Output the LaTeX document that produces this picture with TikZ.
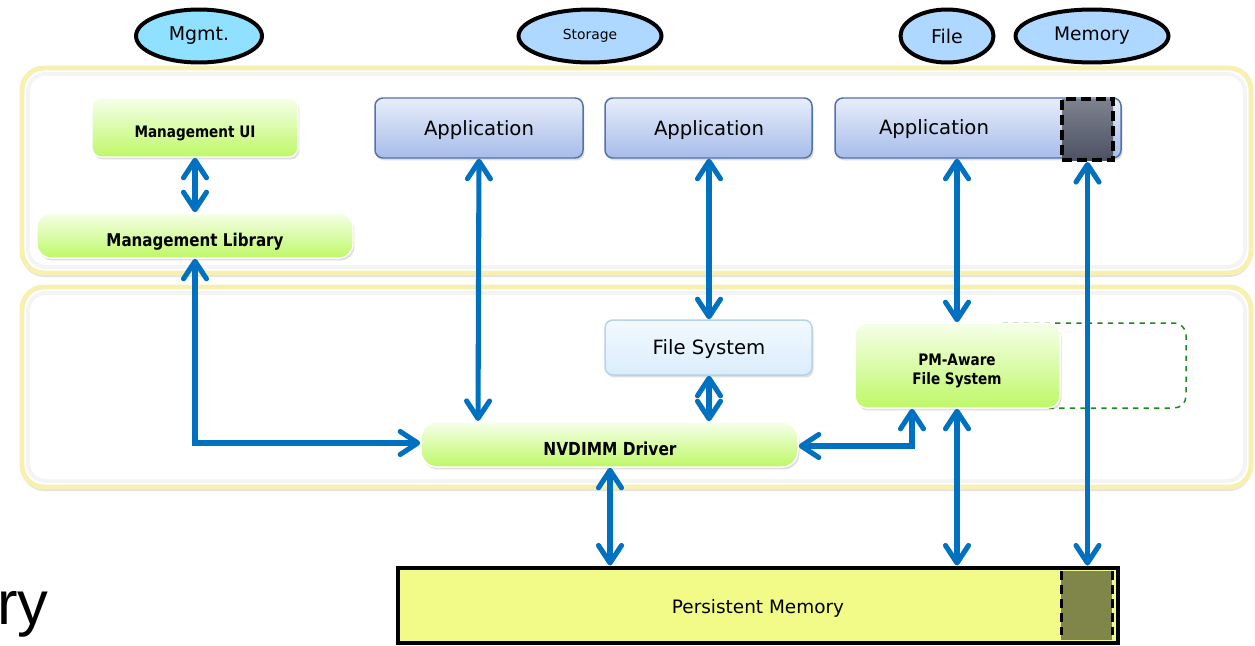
\documentclass[tikz,border=0pt]{standalone}
\usepackage{fontspec}
\setmainfont{DejaVu Sans}
\newfontfamily\rysf{Liberation Sans}
\usetikzlibrary{arrows.meta,shapes.geometric,shadows,fit}
\definecolor{arrblue}{HTML}{0070C0}
\definecolor{layeryel}{HTML}{F8F0B0}
\definecolor{gtop}{HTML}{F6FFEA}
\definecolor{gbot}{HTML}{BEF866}
\definecolor{btop}{HTML}{E8EEFA}
\definecolor{bbot}{HTML}{A6BCEA}
\definecolor{bdraw}{HTML}{5272AC}
\definecolor{ftop}{HTML}{F2F9FF}
\definecolor{fbot}{HTML}{DAEDFC}
\definecolor{fdraw}{HTML}{B8D2EA}
\definecolor{ellcyan}{HTML}{90E0FF}
\definecolor{ellblue}{HTML}{AED8FF}
\definecolor{pmyel}{HTML}{F2FA88}
\definecolor{pmdark}{HTML}{80854A}
\definecolor{dgreen}{HTML}{1A8A1A}
\definecolor{sqtop}{HTML}{7E828E}
\definecolor{sqbot}{HTML}{4C5264}
\newcommand{\condb}[1]{\scalebox{0.86}[1]{\bfseries #1}}
\begin{document}
\begin{tikzpicture}[x=0.02cm,y=-0.02cm,
  layer/.style={draw=layeryel,line width=2.83pt,rounded corners=12.5pt,fill=white,
    drop shadow={opacity=0.22,shadow xshift=0pt,shadow yshift=-2.3pt}},
  greenbox/.style={top color=gtop,bottom color=gbot,draw=white,line width=0.85pt,
    rounded corners=5.1pt,inner sep=0pt,
    drop shadow={opacity=0.25,shadow xshift=0.85pt,shadow yshift=-1.4pt}},
  appbox/.style={top color=btop,bottom color=bbot,draw=bdraw,line width=0.85pt,
    rounded corners=4.5pt,inner sep=0pt,
    drop shadow={opacity=0.25,shadow xshift=0.85pt,shadow yshift=-1.4pt}},
  fsbox/.style={top color=ftop,bottom color=fbot,draw=fdraw,line width=0.85pt,
    rounded corners=4.5pt,inner sep=0pt,
    drop shadow={opacity=0.25,shadow xshift=0.85pt,shadow yshift=-1.4pt}},
  tag/.style={ellipse,draw=black,line width=2.27pt,inner sep=0pt,minimum height=1.06cm},
  biarrow/.style={draw=arrblue,line width=2.9pt,
    {Straight Barb[length=0.35cm,width=0.46cm,round]}-{Straight Barb[length=0.35cm,width=0.46cm,round]}},
  regtext/.style={font=\fontsize{11.2pt}{13pt}\selectfont}
]
\useasboundingbox (0,0) rectangle (1255,646);
\fill[white] (0,0) rectangle (1255,646);

% layers
\path[layer] (22,68) rectangle (1251,273);
\path[layer] (22,287) rectangle (1251,487);
\draw[black,opacity=0.045,line width=2.27pt,rounded corners=10.2pt] (28,74) rectangle (1245,267);
\draw[black,opacity=0.045,line width=2.27pt,rounded corners=10.2pt] (28,293) rectangle (1245,481);

% tags
\node[tag,fill=ellcyan,minimum width=2.52cm,font=\fontsize{10.8pt}{12pt}\selectfont] (tmgmt) at (199,36) {Mgmt.};
\node[tag,fill=ellblue,minimum width=2.86cm,font=\fontsize{7.9pt}{9pt}\selectfont] (tstor) at (590,36) {Storage};
\node[tag,fill=ellblue,minimum width=1.86cm,font=\fontsize{10.8pt}{12pt}\selectfont] (tfile) at (947,36) {File};
\node[tag,fill=ellblue,minimum width=3.06cm,font=\fontsize{10.6pt}{12pt}\selectfont] (tmem) at (1092,36) {Memory};

% management
\node[greenbox,fit={(92,98) (298,157)}] (mui) {};
\node[font=\fontsize{9pt}{10pt}\selectfont,inner sep=0pt] (muit) at (195,133) {\condb{Management UI}};
\node[greenbox,rounded corners=7.9pt,fit={(37,213) (353,258)}] (mlib) {};
\node[font=\fontsize{10pt}{11pt}\selectfont,inner sep=0pt] (mlibt) at (195,242) {\condb{Management Library}};

% applications
\node[appbox,fit={(375,98) (583,158)}] (app1) {};
\node[regtext,inner sep=0pt] (app1t) at (479,130) {Application};
\node[appbox,fit={(605,98) (812,158)}] (app2) {};
\node[regtext,inner sep=0pt] (app2t) at (709,130) {Application};
\node[appbox,fit={(835,98) (1121,158)}] (app3) {};
\node[regtext,inner sep=0pt] (app3t) at (934,129) {Application};
\node[draw=black,line width=2.27pt,dash pattern=on 5.7pt off 2.8pt,top color=sqtop,bottom color=sqbot,
  fit={(1062,99) (1113,160)},inner sep=0pt] (dsq) {};

% kernel layer
\node[fsbox,fit={(605,320) (812,375)}] (fs) {};
\node[regtext,inner sep=0pt] (fst) at (709,349) {File System};
\draw[dgreen,dashed,line width=0.85pt,rounded corners=6.8pt] (990,323) rectangle (1186,408);
\node[greenbox,rounded corners=6.8pt,fit={(855,323) (1060,408)}] (pmfs) {};
\node[font=\fontsize{9pt}{10.8pt}\selectfont,inner sep=0pt,align=center] (pmfst) at (957,371) {\condb{PM-Aware}\\\condb{File System}};
\node[greenbox,rounded corners=9.1pt,fit={(421,422) (798,467)}] (nvd) {};
\node[font=\fontsize{10.2pt}{11pt}\selectfont,inner sep=0pt] (nvdt) at (610,449) {\condb{NVDIMM Driver}};

% persistent memory
\node[draw=black,line width=2.83pt,fill=pmyel,fit={(398,568) (1118,643)},inner sep=0pt] (pm) {};
\fill[pmdark] (1061,571) rectangle (1112,640);
\draw[black,line width=1.7pt,dash pattern=on 5.1pt off 2.8pt] (1061,571) -- (1061,640);
\draw[black,line width=1.7pt,dash pattern=on 5.1pt off 2.8pt] (1112,571) -- (1112,640);
\node[font=\fontsize{10.5pt}{12pt}\selectfont,inner sep=0pt] (pmt) at (758,608) {Persistent Memory};

% ry
\node[anchor=base west,inner sep=0pt,font=\rysf\fontsize{35pt}{40pt}\selectfont] (ry) at (-3,624) {ry};

% connectors
\coordinate (c1) at (195,443);
\coordinate (c2) at (912,446);
\draw[biarrow] (mui.south -| muit) -- (mlib.north -| muit);
\draw[biarrow] (mlib.south -| mlibt) -- (c1) -- (nvd.west |- c1);
\draw[biarrow] (app1.south -| app1t) -- (478,421);
\draw[biarrow] (app2.south -| app2t) -- (fs.north -| app2t);
\draw[biarrow] (fs.south -| fst) -- (nvd.north -| fst);
\draw[biarrow] (app3.south -| pmfst) -- (pmfs.north -| pmfst);
\draw[biarrow] (nvd.east |- c2) -- (c2) -- (pmfs.south -| c2);
\draw[biarrow] (pmfs.south -| pmfst) -- (pm.north -| pmfst);
\draw[biarrow] (nvd.south -| nvdt) -- (pm.north -| nvdt);
\draw[biarrow] (dsq.south) -- (pm.north -| dsq.south);
\end{tikzpicture}
\end{document}
